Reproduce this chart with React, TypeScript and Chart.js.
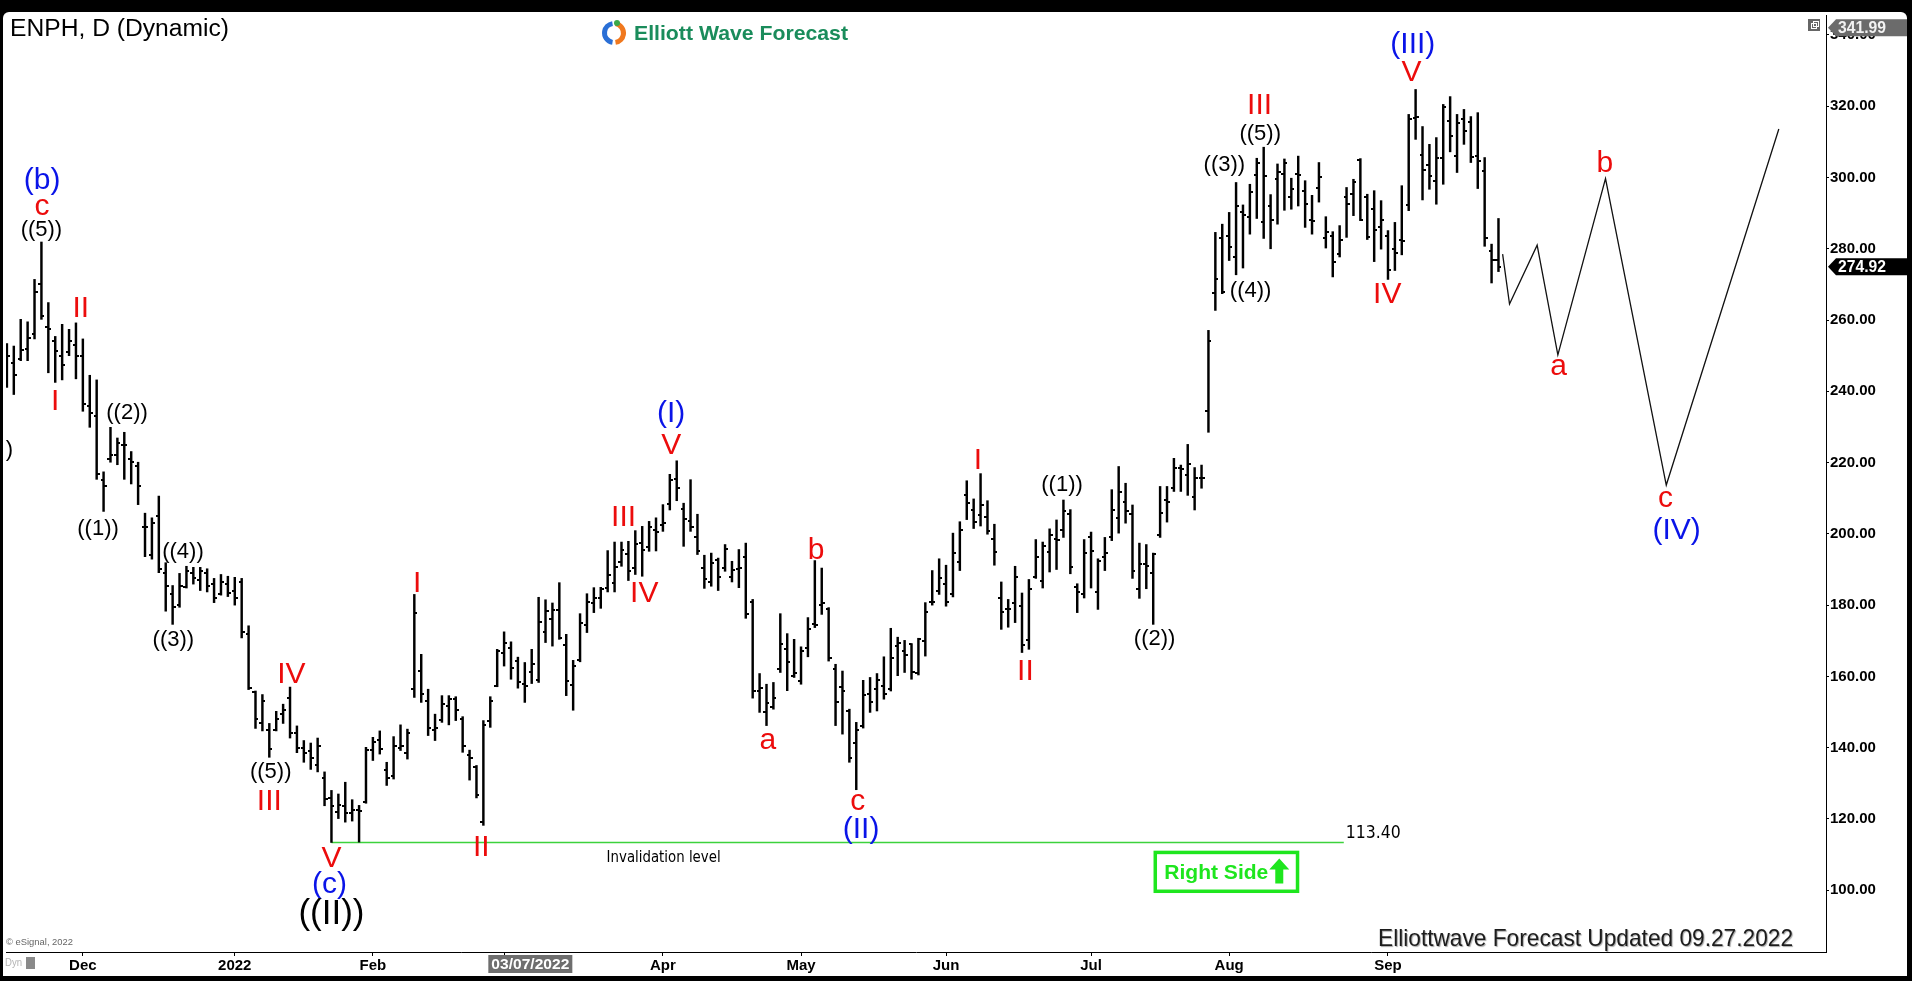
import React, { useEffect, useRef } from "react";
import { Chart, registerables } from "chart.js";

Chart.register(...registerables);

const FONT = '"Liberation Sans", Arial, Helvetica, sans-serif';

// ---- daily OHLC (bar index 0 = 15 Nov 2021) ----
const highs = [
  253.4, 252.7, 260.2, 259.5, 271.4, 281.9, 264.9, 255.4, 258.8, 257.4,
  259.2, 254.7, 244.5, 243.2, 217.4, 229.9, 226.9, 228.5, 223.1, 220.1,
  205.8, 204.5, 210.6, 191.9, 185.5, 188.9, 190.9, 190.6, 190.6, 190.2,
  187.5, 188.6, 188.1, 187.8, 187.5, 174.2, 155.9, 154.9, 146.8, 150.2,
  152.2, 157.0, 146.1, 142.0, 141.3, 142.7, 133.2, 128.0, 127.0, 130.3,
  125.4, 123.8, 140.1, 142.9, 144.7, 135.9, 143.1, 146.4, 145.2, 183.0,
  166.2, 156.4, 149.4, 154.6, 154.6, 154.3, 148.7, 139.3, 135.0, 147.6,
  154.3, 167.6, 172.5, 169.7, 165.4, 163.9, 167.6, 182.2, 181.5, 180.6,
  186.3, 171.8, 164.5, 177.6, 183.2, 184.9, 185.0, 195.3, 197.7, 197.7,
  197.9, 200.9, 202.1, 203.5, 204.5, 208.2, 216.7, 220.5, 208.6, 215.2,
  205.5, 194.0, 194.6, 193.2, 197.0, 192.3, 195.6, 197.4, 181.6, 160.8,
  157.8, 158.3, 177.6, 172.0, 170.4, 168.3, 176.5, 192.5, 190.4, 179.3,
  163.4, 161.5, 150.8, 147.1, 158.9, 159.7, 160.8, 165.5, 173.5, 171.0,
  170.1, 169.2, 170.7, 180.7, 189.7, 193.0, 191.2, 200.2, 203.4, 214.9,
  209.8, 216.9, 209.3, 202.7, 186.5, 181.6, 190.9, 183.4, 187.2, 198.4,
  197.7, 201.4, 203.9, 209.5, 206.8, 186.0, 198.4, 200.5, 193.0, 199.0,
  212.4, 218.9, 214.2, 208.1, 197.4, 197.0, 194.6, 213.3, 213.3, 221.2,
  219.3, 225.1, 218.6, 219.3, 257.1, 284.6, 286.9, 290.2, 298.6, 292.3,
  298.1, 305.4, 308.5, 295.2, 303.8, 305.2, 299.8, 306.0, 299.1, 295.0,
  304.2, 289.0, 284.8, 286.5, 297.2, 299.5, 305.3, 295.3, 296.3, 293.5,
  285.1, 287.4, 297.7, 317.7, 324.7, 314.3, 309.3, 311.2, 320.5, 322.7,
  317.7, 319.1, 317.1, 318.2, 305.6, 281.3, 288.5,
];
const lows = [
  241.1, 239.1, 248.6, 248.6, 254.7, 260.2, 245.2, 242.5, 243.2, 250.0,
  243.5, 234.4, 229.9, 215.3, 206.3, 220.1, 219.4, 215.3, 214.0, 208.2,
  193.6, 192.9, 189.1, 178.3, 174.6, 179.4, 184.8, 185.9, 184.1, 183.7,
  180.7, 182.8, 182.4, 180.0, 170.8, 156.3, 145.4, 144.7, 137.3, 144.7,
  146.8, 142.7, 138.6, 135.9, 133.9, 133.2, 123.7, 113.4, 120.1, 119.1,
  119.4, 113.5, 124.4, 136.4, 138.2, 129.4, 131.2, 139.2, 136.8, 154.1,
  152.7, 143.4, 142.0, 147.1, 146.4, 147.6, 138.7, 130.9, 125.9, 118.2,
  145.7, 157.1, 162.9, 159.2, 156.7, 152.7, 158.0, 158.3, 169.5, 168.5,
  170.4, 154.6, 150.5, 164.1, 172.3, 177.9, 179.1, 183.7, 183.7, 190.9,
  186.9, 188.6, 188.1, 195.1, 195.2, 200.7, 206.7, 209.3, 196.5, 200.7,
  194.2, 184.7, 185.3, 184.1, 189.5, 186.5, 184.9, 176.3, 153.9, 149.9,
  146.2, 150.8, 161.1, 156.0, 159.7, 157.8, 165.5, 173.7, 177.4, 164.3,
  146.2, 143.8, 135.9, 128.2, 145.5, 149.9, 150.3, 153.6, 155.9, 160.2,
  161.1, 159.2, 160.4, 165.7, 180.0, 183.0, 179.7, 182.3, 189.7, 204.0,
  201.5, 202.2, 199.9, 191.2, 173.2, 173.8, 175.1, 166.7, 167.6, 187.5,
  184.8, 189.3, 190.0, 199.0, 188.8, 177.9, 182.0, 184.8, 178.8, 189.7,
  198.1, 200.2, 203.0, 187.5, 181.9, 184.6, 174.6, 199.0, 203.3, 211.9,
  211.9, 210.8, 206.7, 212.8, 228.5, 262.7, 267.4, 276.7, 272.7, 274.6,
  284.1, 288.5, 282.9, 280.0, 286.9, 290.8, 291.1, 292.0, 286.0, 284.1,
  293.1, 280.2, 272.1, 277.7, 283.2, 289.3, 287.9, 282.6, 276.4, 279.9,
  271.4, 273.9, 278.3, 290.7, 310.7, 293.7, 296.7, 292.5, 298.1, 307.2,
  301.4, 309.3, 304.2, 296.9, 280.7, 270.4, 273.6,
];
const opens = [
  244, 248, 249, 252, 256, 270, 258, 254, 250, 251,
  253, 250, 236, 233, 215, 221, 222, 225, 221, 219,
  202, 194, 205, 189, 183, 180, 185, 189, 187, 189,
  186, 183, 186, 184, 186.5, 172, 155.5, 147, 145, 145,
  149.5, 154, 144, 140, 139, 135, 131.5, 126, 122, 123.5,
  121.6, 122.5, 124.8, 139.3, 142.2, 133.8, 132, 139.8, 138.5, 156.6,
  161.5, 153, 145, 147.8, 151.6, 153.6, 148, 137.9, 134.7, 119.2,
  147.6, 157.4, 166.6, 168, 164.3, 157.9, 161.3, 159, 172.5, 176,
  178.5, 168.7, 157.7, 164.5, 174.4, 180.6, 182.1, 184.7, 186.3, 192.1,
  194.3, 190.5, 197.5, 196.4, 201.2, 202.4, 208.5, 215.3, 206.9, 203.6,
  199.1, 190.5, 186.4, 192.7, 190.5, 188, 190.2, 193.5, 181, 156,
  150, 151.5, 162, 167.7, 160, 158.6, 168, 174.6, 180, 179,
  162, 157, 150.3, 141.2, 146, 155, 156.6, 157.3, 156.5, 168.6,
  167, 169, 160.9, 170, 181, 184, 186, 183, 192.2, 210.9,
  206.6, 205.4, 204.7, 198.5, 182, 178.8, 180.5, 179.7, 170.1, 188,
  186.7, 195, 198.5, 201.2, 205.6, 185, 183, 199, 183.8, 193.6,
  199, 204.4, 208.9, 205.5, 184.4, 191.4, 189, 199.8, 209.6, 213,
  218.4, 216.4, 210.4, 215.8, 234.5, 267.5, 283, 283.7, 277.8, 290.2,
  288.8, 300.6, 287.5, 292, 299.5, 301, 294.6, 301, 296.3, 288,
  297, 283, 283.5, 278.4, 294.5, 295.5, 305, 294.4, 291.1, 286.2,
  283.6, 280, 282.5, 292.2, 316.7, 306.2, 303.6, 299, 305.5, 315.9,
  306, 316.5, 315.7, 306, 301.7, 279.5, 276.8,
];
const closes = [
  250, 244.5, 251.5, 255, 268, 261, 257.5, 251.3, 247.3, 254,
  250, 236.4, 234, 216.7, 213.3, 222.1, 225.5, 224.8, 220.1, 213.3,
  201.8, 203.1, 190.2, 185.5, 179.4, 185.5, 189.5, 187.5, 189.6, 185.5,
  182, 186.5, 183.5, 182, 172.5, 156.8, 148, 153, 139.5, 148,
  150.6, 144, 140, 138.5, 137, 140.5, 125.5, 123.5, 124, 121.6,
  122.6, 122.2, 139.3, 141.5, 139.7, 131.6, 140.6, 140.4, 144.1, 177.9,
  155.2, 145.5, 145.6, 152.3, 153.6, 150.6, 140.4, 137.1, 126.7, 146.3,
  153.2, 167.2, 169.5, 162.3, 158.3, 157.2, 163.6, 175.3, 178.3, 178.5,
  170.8, 158.8, 162.9, 175, 180.8, 182.1, 184.4, 188.5, 190.6, 195.6,
  189.7, 197.2, 195.4, 201.9, 200.4, 203.1, 215.1, 213, 204.1, 201.9,
  195.3, 187.2, 191.8, 187.9, 195.8, 189.9, 190.5, 177.6, 156, 156.7,
  152.6, 153.9, 169, 164.1, 160.9, 167.1, 173.3, 174.3, 180.5, 165.2,
  152.8, 156, 137, 145, 154.7, 152.9, 159, 155, 165.3, 169.4,
  165.9, 161.2, 170.4, 178, 180.9, 187.5, 181, 194.5, 201.1, 208.7,
  203.3, 208.1, 200.8, 195, 178, 179, 187.9, 168.7, 184.4, 193.5,
  196.5, 199.7, 198.3, 206.3, 190.6, 183.8, 194.7, 195.3, 192.3, 194.7,
  206.6, 211.8, 206.5, 189.5, 191.4, 191, 194.4, 205.8, 208.8, 218.5,
  218.2, 219.5, 215.6, 215.6, 254.2, 271.6, 267.8, 280.5, 291.9, 289.4,
  295.8, 304.2, 300.5, 288, 301.6, 304.2, 296.9, 300.6, 292.5, 287.8,
  300.1, 284.6, 276.4, 282.5, 292.5, 298.8, 288.2, 283.4, 285.3, 288,
  274, 278.9, 282.2, 316.4, 317, 302, 300.5, 305.6, 319.8, 311.7,
  315.4, 313, 305.8, 304.6, 283.1, 276.8, 274.92,
];

// ---- axes ----
const monthTickIdx = [11, 33, 53, 72, 95, 115, 136, 157, 177, 200];
const monthTickLabels = ["Dec", "2022", "Feb", "", "Apr", "May", "Jun", "Jul", "Aug", "Sep"];
const yTickValues = [100, 120, 140, 160, 180, 200, 220, 240, 260, 280, 300, 320, 340];
const X_MIN = -0.13;
const X_MAX = 263.43;
const Y_MIN = 82.66;
const Y_MAX = 345.6;
const crosshairIdx = 75.8;
const crosshairLabel = "03/07/2022";

// ---- price tags ----
const lastPrice = 274.92;
const highTag = 341.99;

// ---- forecast path ----
const forecastIdx = [216.6, 217.6, 221.6, 224.6, 231.5, 240.3, 256.6];
const forecastPrice = [278.5, 264.5, 281.0, 250.2, 299.7, 213.7, 313.6];

// ---- invalidation level ----
const invalidationLevel = 113.4;
const invalidationFrom = 47;
const invalidationTo = 193.6;

// ---- wave labels: text, bar index, price, colour key, size ----
const labelText = [
  "(b)", "c", "((5))", "I", "II", "((1))", "((2))", "((3))", "((4))", "((5))",
  "III", "IV", "V", "(c)", "((II))", "I", "II", "III", "IV", "V",
  "(I)", "a", "b", "c", "(II)", "I", "II", "((1))", "((2))", "((3))",
  "((4))", "III", "((5))", "IV", "V", "(III)", "a", "b", "c", "(IV)", ")",
];
const labelIdx = [
  5.1, 5.1, 5.0, 7.0, 10.7, 13.2, 17.4, 24.1, 25.5, 38.2,
  38.0, 41.2, 47.0, 46.7, 47.0, 59.4, 68.7, 89.3, 92.3, 96.2,
  96.2, 110.2, 117.2, 123.2, 123.7, 140.6, 147.5, 152.8, 166.2, 176.3,
  180.1, 181.4, 181.5, 199.9, 203.4, 203.6, 224.7, 231.4, 240.2, 241.8, 0.35,
];
const labelPrice = [
  299.0, 291.8, 285.3, 237.2, 263.1, 201.4, 233.8, 170.3, 194.9, 133.1,
  124.9, 160.4, 108.9, 101.4, 93.2, 186.0, 111.9, 204.4, 183.3, 224.6,
  233.8, 142.0, 195.2, 124.9, 117.1, 220.5, 161.4, 213.7, 170.6, 303.4,
  268.3, 320.1, 312.3, 267.2, 329.4, 337.2, 246.8, 303.8, 209.9, 201.0, 223.5,
];
const labelColorKey = [
  "B", "R", "K", "R", "R", "K", "K", "K", "K", "K",
  "R", "R", "R", "B", "K", "R", "R", "R", "R", "R",
  "B", "R", "R", "R", "B", "R", "R", "K", "K", "K",
  "K", "R", "K", "R", "R", "B", "R", "R", "R", "B", "K",
];
const labelSize = [
  30, 30, 22, 30, 30, 22, 22, 22, 22, 22,
  30, 30, 30, 30, 35, 30, 30, 30, 30, 30,
  30, 30, 30, 30, 30, 30, 30, 22, 22, 22,
  22, 30, 22, 30, 30, 30, 30, 30, 30, 30, 22,
];
const COLORS: Record<string, string> = { B: "#0a14e8", R: "#ec0c0c", K: "#000000" };

// Right Side box (data coordinates)
const boxIdx = [166.3, 186.9];
const boxPrice = [110.6, 99.7];

function fitText(ctx: CanvasRenderingContext2D, text: string, x: number, y: number, w: number) {
  const m = ctx.measureText(text).width;
  ctx.save();
  ctx.translate(x, y);
  ctx.scale(w / m, 1);
  ctx.textAlign = "left";
  ctx.fillText(text, 0, 0);
  ctx.restore();
}

function makeTick(left: boolean) {
  const c = document.createElement("canvas");
  c.width = 6;
  c.height = 2;
  const g = c.getContext("2d")!;
  g.fillStyle = "#000";
  if (left) g.fillRect(0, 0, 3, 2);
  else g.fillRect(3, 0, 3, 2);
  return c;
}

const overlayPlugin = {
  id: "ewOverlay",
  afterDatasetsDraw(chart: any) {
    const { ctx, scales } = chart;
    const xs = scales.x;
    const ys = scales.y;
    ctx.save();
    ctx.textAlign = "center";
    ctx.textBaseline = "middle";
    for (let k = 0; k < labelText.length; k++) {
      ctx.font = `${labelSize[k]}px ${FONT}`;
      ctx.fillStyle = COLORS[labelColorKey[k]];
      ctx.fillText(labelText[k], xs.getPixelForValue(labelIdx[k]), ys.getPixelForValue(labelPrice[k]));
    }
    // invalidation texts
    ctx.fillStyle = "#000";
    ctx.font = `15px Tahoma, "DejaVu Sans", ${FONT}`;
    ctx.textBaseline = "middle";
    fitText(ctx, "Invalidation level", xs.getPixelForValue(95.1) - 57, ys.getPixelForValue(108.95), 114);
    ctx.font = `17px Tahoma, "DejaVu Sans", ${FONT}`;
    fitText(ctx, "113.40", xs.getPixelForValue(193.9), ys.getPixelForValue(115.9), 55);

    // Right Side box
    const bx0 = xs.getPixelForValue(boxIdx[0]);
    const bx1 = xs.getPixelForValue(boxIdx[1]);
    const by0 = ys.getPixelForValue(boxPrice[0]);
    const by1 = ys.getPixelForValue(boxPrice[1]);
    ctx.strokeStyle = "#1ee61e";
    ctx.lineWidth = 3.5;
    ctx.strokeRect(bx0, by0, bx1 - bx0, by1 - by0);
    ctx.fillStyle = "#1ee61e";
    ctx.font = `bold 21px ${FONT}`;
    fitText(ctx, "Right Side", bx0 + 9, (by0 + by1) / 2 + 1, 104);
    const ax = bx0 + 124;
    const ay = by0 + 6;
    ctx.beginPath();
    ctx.moveTo(ax, ay);
    ctx.lineTo(ax + 10, ay + 11);
    ctx.lineTo(ax + 4, ay + 11);
    ctx.lineTo(ax + 4, ay + 25);
    ctx.lineTo(ax - 4, ay + 25);
    ctx.lineTo(ax - 4, ay + 11);
    ctx.lineTo(ax - 10, ay + 11);
    ctx.closePath();
    ctx.fill();
    ctx.restore();
  },
  afterDraw(chart: any) {
    const { ctx, scales, chartArea, width } = chart;
    const ys = scales.y;
    const xs = scales.x;
    ctx.save();
    // title
    ctx.fillStyle = "#000";
    ctx.textBaseline = "middle";
    ctx.font = `23px ${FONT}`;
    fitText(ctx, "ENPH, D (Dynamic)", 7, 18, 219);
    // logo
    const lx = 611;
    const ly = 21;
    ctx.lineWidth = 5;
    ctx.strokeStyle = "#2a6fd6";
    ctx.beginPath();
    ctx.arc(lx, ly, 9.5, Math.PI * 0.55, Math.PI * 1.45);
    ctx.stroke();
    ctx.strokeStyle = "#f0781e";
    ctx.beginPath();
    ctx.arc(lx, ly, 9.5, Math.PI * 1.55, Math.PI * 2.45);
    ctx.stroke();
    ctx.fillStyle = "#3aa84a";
    ctx.beginPath();
    ctx.arc(lx + 3, ly - 10, 3, 0, Math.PI * 2);
    ctx.fill();
    ctx.fillStyle = "#1a8c5b";
    ctx.font = `bold 21px ${FONT}`;
    fitText(ctx, "Elliott Wave Forecast", 631, 22, 214);
    // footer
    ctx.save();
    ctx.shadowColor = "rgba(0,0,0,0.35)";
    ctx.shadowOffsetX = 1;
    ctx.shadowOffsetY = 1;
    ctx.shadowBlur = 1;
    ctx.fillStyle = "#1c1c1c";
    ctx.font = `24px ${FONT}`;
    fitText(ctx, "Elliottwave Forecast Updated 09.27.2022", 1375, 927, 415);
    ctx.restore();
    // copyright
    ctx.fillStyle = "#666";
    ctx.font = `9px ${FONT}`;
    fitText(ctx, "\u00a9 eSignal, 2022", 3, 931, 67);
    // Dyn
    ctx.fillStyle = "#b4b4b4";
    ctx.font = `11px ${FONT}`;
    fitText(ctx, "Dyn", 2, 951, 17);
    ctx.fillStyle = "#8a8a8a";
    ctx.fillRect(23, 945, 9, 12);
    // crosshair date box
    const cx = xs.getPixelForValue(crosshairIdx);
    ctx.fillStyle = "#6e6e6e";
    ctx.fillRect(cx - 42, chartArea.bottom + 3, 84, 18);
    ctx.fillStyle = "#fff";
    ctx.font = `bold 15px ${FONT}`;
    fitText(ctx, crosshairLabel, cx - 39, chartArea.bottom + 12.5, 78);
    // restore icon
    ctx.fillStyle = "#666";
    ctx.fillRect(1805, 7, 12, 12);
    ctx.strokeStyle = "#fff";
    ctx.lineWidth = 1;
    ctx.strokeRect(1808.5, 11.5, 5, 5);
    ctx.strokeRect(1810.5, 9.5, 5, 5);
    // price tags
    const drawTag = (price: number, bg: string, fg: string) => {
      const y = ys.getPixelForValue(price);
      const x0 = chartArea.right + 2;
      const h = 17;
      ctx.fillStyle = bg;
      ctx.beginPath();
      ctx.moveTo(x0, y);
      ctx.lineTo(x0 + 8, y - h / 2);
      ctx.lineTo(width, y - h / 2);
      ctx.lineTo(width, y + h / 2);
      ctx.lineTo(x0 + 8, y + h / 2);
      ctx.closePath();
      ctx.fill();
      ctx.fillStyle = fg;
      ctx.font = `bold 16px ${FONT}`;
      ctx.textBaseline = "middle";
      fitText(ctx, price.toFixed(2), x0 + 10, y + 1, 48);
    };
    drawTag(highTag, "#6b6b6b", "#f2f2f2");
    drawTag(lastPrice, "#000", "#fff");
    ctx.restore();
  },
};

export default function App() {
  const ref = useRef<HTMLCanvasElement>(null);
  useEffect(() => {
    const canvas = ref.current;
    if (!canvas) return;
    const openImg = makeTick(true);
    const closeImg = makeTick(false);
    const idx = highs.map((_, i) => i);
    const chart = new Chart(canvas, {
      type: "bar",
      data: {
        datasets: [
          {
            type: "bar",
            data: idx.map((i) => ({ x: i, y: [lows[i], highs[i]] })) as any,
            backgroundColor: "#000",
            borderWidth: 0,
            barThickness: 1.8,
            grouped: true,
          } as any,
          {
            type: "scatter",
            data: idx.map((i) => ({ x: i, y: opens[i] })),
            pointStyle: openImg as any,
            pointRadius: 2,
            pointHoverRadius: 2,
          } as any,
          {
            type: "scatter",
            data: idx.map((i) => ({ x: i, y: closes[i] })),
            pointStyle: closeImg as any,
            pointRadius: 2,
            pointHoverRadius: 2,
          } as any,
          {
            type: "line",
            data: forecastIdx.map((v, k) => ({ x: v, y: forecastPrice[k] })),
            borderColor: "#111",
            borderWidth: 1.3,
            pointRadius: 0,
            tension: 0,
            fill: false,
          } as any,
          {
            type: "line",
            data: [
              { x: invalidationFrom, y: invalidationLevel },
              { x: invalidationTo, y: invalidationLevel },
            ],
            borderColor: "#3cd23c",
            borderWidth: 1.5,
            pointRadius: 0,
            fill: false,
          } as any,
        ],
      },
      options: {
        responsive: false,
        animation: false,
        events: [],
        layout: { padding: 0 },
        plugins: { legend: { display: false }, tooltip: { enabled: false } },
        scales: {
          x: {
            type: "linear",
            min: X_MIN,
            max: X_MAX,
            offset: false,
            afterBuildTicks: (s: any) => {
              s.ticks = monthTickIdx.map((v) => ({ value: v }));
            },
            ticks: {
              autoSkip: false,
              maxRotation: 0,
              minRotation: 0,
              padding: 1,
              color: "#000",
              font: { family: FONT, size: 15, weight: "bold" },
              callback: (v: any) => {
                const k = monthTickIdx.indexOf(Number(v));
                return k >= 0 ? monthTickLabels[k] : "";
              },
            },
            grid: { display: true, offset: false, drawOnChartArea: false, drawTicks: true, tickLength: 4, color: "#000" },
            border: { display: true, color: "#000", width: 1 },
            afterFit: (s: any) => {
              s.height = 24;
              s.paddingLeft = 0;
              s.paddingRight = 0;
            },
          } as any,
          y: {
            type: "linear",
            position: "right",
            min: Y_MIN,
            max: Y_MAX,
            afterBuildTicks: (s: any) => {
              s.ticks = yTickValues.map((v) => ({ value: v }));
            },
            ticks: {
              color: "#000",
              padding: 1,
              font: { family: FONT, size: 15, weight: "bold" },
              callback: (v: any) => Number(v).toFixed(2),
            },
            grid: { drawOnChartArea: false, drawTicks: true, tickLength: 3, color: "#000" },
            border: { display: true, color: "#000", width: 1 },
            afterFit: (s: any) => {
              s.width = 81;
              s.paddingTop = 0;
              s.paddingBottom = 0;
            },
          } as any,
        },
      },
      plugins: [overlayPlugin],
    });
    return () => chart.destroy();
  }, []);
  return (
    <div
      style={{
        position: "fixed",
        left: 0,
        top: 0,
        width: 1912,
        height: 981,
        background: "#000",
        overflow: "hidden",
      }}
    >
      <canvas
        ref={ref}
        width={1904}
        height={964}
        style={{
          position: "absolute",
          left: 3,
          top: 12,
          width: 1904,
          height: 964,
          background: "#fff",
          borderRadius: "6px 6px 0 0",
        }}
      />
    </div>
  );
}
